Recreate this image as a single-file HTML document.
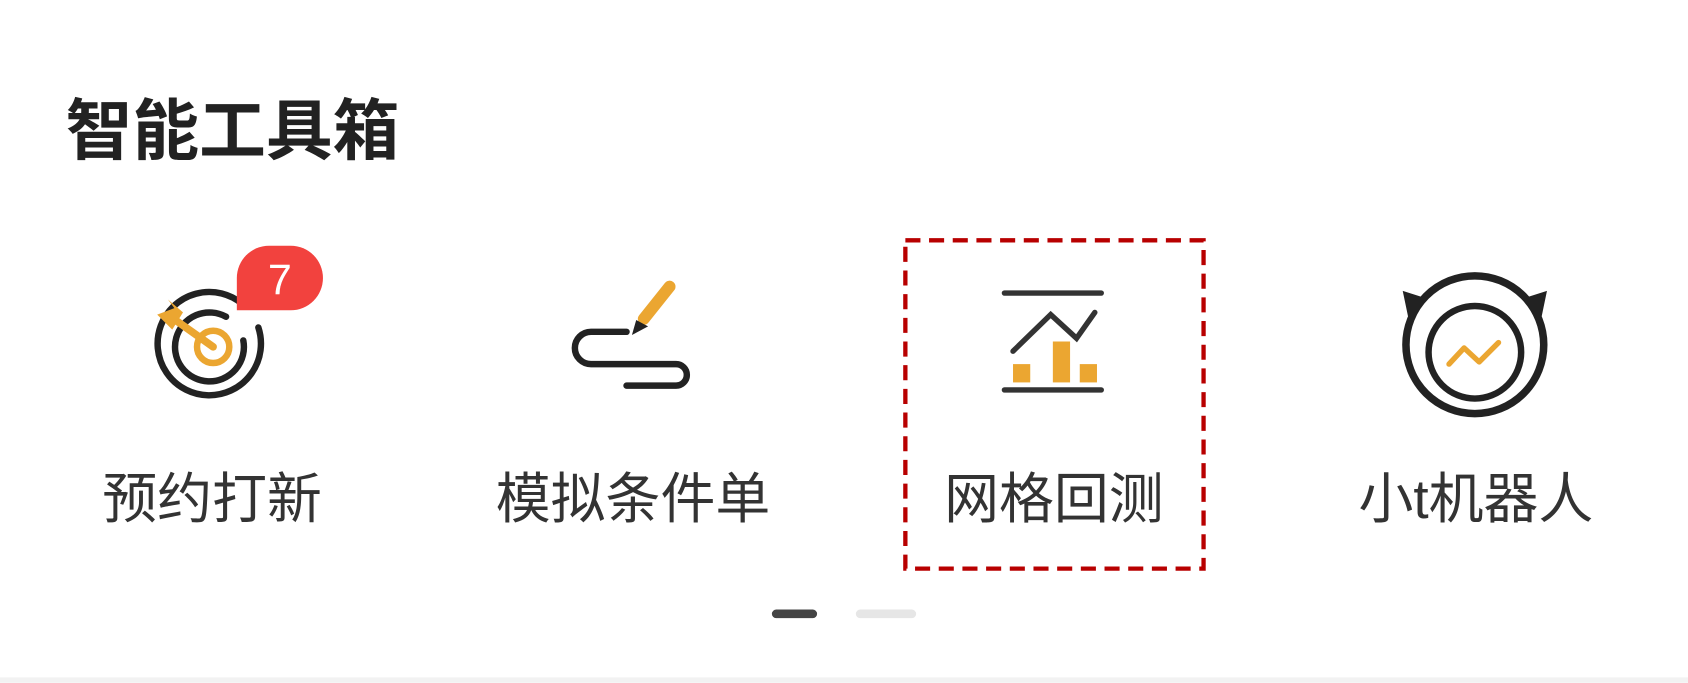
<!DOCTYPE html>
<html><head><meta charset="utf-8"><style>
html,body{margin:0;padding:0;background:#fff;width:1688px;height:683px;overflow:hidden}
svg{display:block}
text{font-family:"Liberation Sans","Noto Sans CJK SC",sans-serif}
</style></head><body>
<svg width="1688" height="683" viewBox="0 0 1568 634" xmlns="http://www.w3.org/2000/svg">
<rect width="1568" height="634" fill="#fff"/>
<rect y="629" width="1568" height="5" fill="#f2f2f2"/>
<text x="61" y="143" font-size="62" font-weight="bold" fill="#222">智能工具箱</text>

<!-- target -->
<g fill="none" stroke="#222" stroke-width="6" stroke-linecap="round">
<path d="M225 282 A48 48 0 1 0 240 304"/>
<path d="M210 294 A32 32 0 1 0 226 316"/>
</g>
<circle cx="198" cy="322" r="15" fill="none" stroke="#eba631" stroke-width="6"/>
<line x1="160" y1="295" x2="198" y2="322" stroke="#eba631" stroke-width="7" stroke-linecap="round"/>
<path d="M146 292 L162 286 L156 278 L170 290 L160 306 Z" fill="#eba631"/>
<path d="M220 288 V258 A30 30 0 0 1 250 228 H270 A30 30 0 0 1 300 258 A30 30 0 0 1 270 288 Z" fill="#f2423e"/>
<text x="260" y="273" font-size="40" fill="#fff" text-anchor="middle">7</text>

<!-- pencil S -->
<g fill="none" stroke="#222" stroke-width="6" stroke-linecap="round">
<path d="M582 308 H549 A15 15 0 0 0 549 338 H628 A10 10 0 0 1 628 358 H582"/>
</g>
<line x1="622" y1="266" x2="598" y2="296" stroke="#eba631" stroke-width="11" stroke-linecap="round"/>
<path d="M591 297 L602 303 L587 311 Z" fill="#222"/>

<!-- grid -->
<g stroke="#333" stroke-width="5" stroke-linecap="round" fill="none">
<line x1="933" y1="272" x2="1023" y2="272"/>
<line x1="933" y1="362" x2="1023" y2="362"/>
<polyline points="941,326 976,292 1000,314 1017,290"/>
</g>
<g fill="#eba631">
<rect x="941" y="338" width="16" height="17"/>
<rect x="978" y="317" width="16" height="38"/>
<rect x="1003" y="338" width="16" height="17"/>
</g>
<rect x="841" y="223" width="277" height="305" fill="none" stroke="#b80000" stroke-width="4" stroke-dasharray="14 8"/>

<!-- robot -->
<circle cx="1370" cy="320" r="64" fill="none" stroke="#222" stroke-width="7"/>
<circle cx="1370" cy="327" r="43" fill="none" stroke="#222" stroke-width="6"/>
<path d="M1303 270 L1322 276 L1308 294 Z" fill="#222"/>
<path d="M1437 270 L1418 276 L1432 294 Z" fill="#222"/>
<polyline points="1346,338 1360,323 1374,336 1392,318" fill="none" stroke="#eba631" stroke-width="5" stroke-linecap="round" stroke-linejoin="round"/>

<g font-size="51" fill="#333" text-anchor="middle">
<text x="197" y="481">预约打新</text>
<text x="588" y="481">模拟条件单</text>
<text x="979" y="481">网格回测</text>
<text x="1371" y="481">小t机器人</text>
</g>

<rect x="717" y="566" width="42" height="8" rx="4" fill="#444"/>
<rect x="795" y="566" width="56" height="8" rx="4" fill="#e6e6e6"/>
</svg>
</body></html>
